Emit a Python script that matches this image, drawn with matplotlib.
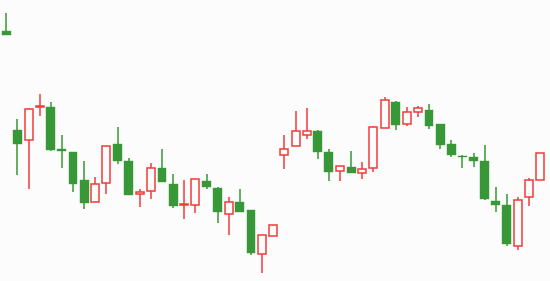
import numpy as np
import matplotlib
matplotlib.use("Agg")
import matplotlib.pyplot as plt

# OHLC values
opens = [250, 151, 140.7, 174.3, 174, 132, 129, 101, 78.7, 97.7,
         137, 120, 86.7, 89.7, 113, 97, 76.3, 75.7, 100, 93,
         66.7, 79, 71, 26.7, 44.7, 125.7, 134.7, 145.7, 150, 129,
         109.7, 113.7, 107.7, 112.7, 152.7, 178.7, 156.7, 168.7, 171, 157,
         137, 125.3, 124, 120, 80, 76, 34.7, 83.7, 100.7]
highs = [268, 162, 172.7, 187, 179, 146, 129, 120, 104, 135,
         154, 123, 92, 118, 132, 107, 101, 101.7, 107, 93.7,
         84, 92, 71, 45.7, 55.7, 146, 170, 173, 151, 131.7,
         115.3, 130, 119, 154.7, 183.7, 179.7, 174, 175, 177, 157,
         141, 126, 128, 136, 94, 87, 84, 103, 128]
lows = [246.3, 106.3, 92.3, 165.3, 130.3, 113.3, 89.3, 72.3, 78.7, 87.3,
        117.3, 86.3, 74.3, 82.3, 99.3, 73.3, 62.3, 68.3, 92.3, 58.3,
        46.3, 69.3, 26.3, 8.3, 44.7, 112.3, 134.7, 141.7, 122.3, 100.3,
        100.3, 108.3, 101.7, 109.3, 152.7, 151.3, 155.3, 164.3, 152.3, 132.3,
        124.3, 113.3, 114.3, 80.7, 69.3, 35.3, 31.3, 75.3, 100.7]
closes = [246.3, 137.3, 171.7, 175, 131.3, 130.3, 97.3, 78.3, 97, 135,
          120.3, 86.3, 88.7, 112.7, 99.3, 75.3, 77, 101.7, 94.3, 69.3,
          78.7, 69.3, 28.3, 45.7, 55.7, 131.7, 149.7, 149.7, 129.3, 109.3,
          115.3, 108.3, 111.7, 153.7, 180.7, 156.3, 168.7, 172.7, 155.3, 136.3,
          126.3, 124.3, 120.3, 82.3, 76.3, 37.3, 81, 101, 128]

up_color = "#f23c3c"
down_color = "#389838"
bg = "#fcfcfc"

o = np.array(opens)
h = np.array(highs)
l = np.array(lows)
c = np.array(closes)
x = np.arange(len(o))
up = c >= o

fig = plt.figure(figsize=(5.5, 2.81), dpi=100, facecolor=bg)
ax = fig.add_axes([0, 0, 1, 1])
ax.set_facecolor(bg)

colors = np.where(up, up_color, down_color)

# wicks
ax.vlines(x, l, h, colors=colors, linewidth=1.1, zorder=1)

# bodies
bottoms = np.minimum(o, c)
heights = np.maximum(np.abs(c - o), 1.2)
ax.bar(x[~up], heights[~up], bottom=bottoms[~up], width=0.8,
       color=down_color, edgecolor=down_color, linewidth=0.3, zorder=2)
ax.bar(x[up], heights[up], bottom=bottoms[up], width=0.72,
       color=bg, edgecolor=up_color, linewidth=1.1, zorder=2)

ax.set_xlim(-6.3 / 11.125, (550 - 6.3) / 11.125)
ax.set_ylim(0, 281)
ax.axis("off")

fig.savefig("out.png", dpi=100, facecolor=bg)
